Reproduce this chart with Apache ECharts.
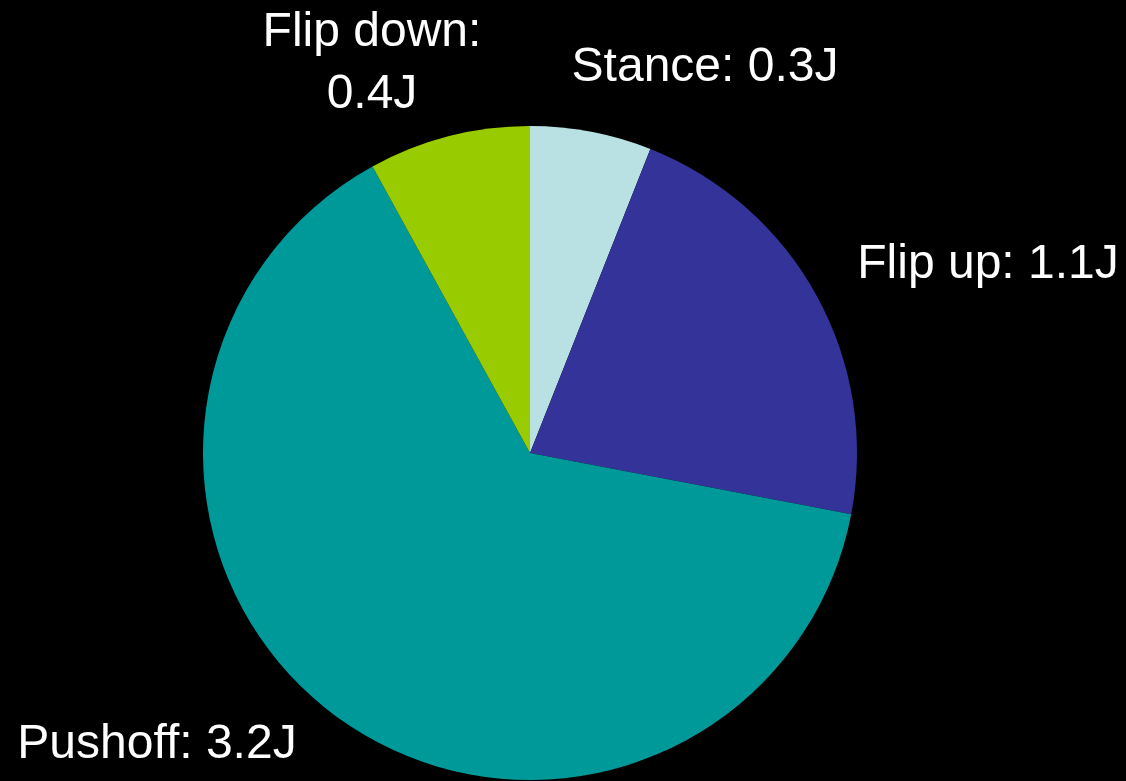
<!DOCTYPE html>
<html>
<head>
<meta charset="utf-8">
<script src="https://cdn.jsdelivr.net/npm/echarts@6/dist/echarts.min.js"></script>
<style>
  html, body { margin: 0; padding: 0; background: #000; }
  #chart { width: 1126px; height: 781px; }
</style>
</head>
<body>
<div id="chart"></div>
<script>
// Energy per gait phase, clockwise from 12 o'clock
const phases = ['Stance', 'Flip up', 'Pushoff', 'Flip down'];
const energyJ = [0.3, 1.1, 3.2, 0.4];
const sliceColors = ['#B9E0E3', '#333399', '#009999', '#99CC00'];
// label anchor points (centre of each text block)
const labelAnchors = [[705, 68], [988, 265], [157, 745], [372, 64]];
// phases whose label breaks onto a second line
const twoLineLabels = ['Flip down'];

const chart = echarts.init(document.getElementById('chart'), null, { renderer: 'canvas' });

chart.setOption({
  backgroundColor: '#000000',
  animation: false,
  series: [{
    type: 'pie',
    center: [530, 453],
    radius: 327,
    startAngle: 90,
    clockwise: true,
    data: phases.map((name, i) => ({
      name,
      value: energyJ[i],
      itemStyle: { color: sliceColors[i] }
    })),
    itemStyle: { borderWidth: 0 },
    label: {
      show: true,
      color: '#ffffff',
      fontFamily: 'Liberation Sans, Arial, sans-serif',
      fontSize: 48,
      lineHeight: 62,
      overflow: 'none',
      formatter: (p) => twoLineLabels.includes(p.name)
        ? p.name + ':\n' + p.value + 'J'
        : p.name + ': ' + p.value + 'J'
    },
    labelLine: { show: false },
    labelLayout: (p) => ({
      x: labelAnchors[p.dataIndex][0],
      y: labelAnchors[p.dataIndex][1],
      align: 'center',
      verticalAlign: 'middle',
      width: 400,
      hideOverlap: false,
      moveOverlap: false
    })
  }]
});
</script>
</body>
</html>
